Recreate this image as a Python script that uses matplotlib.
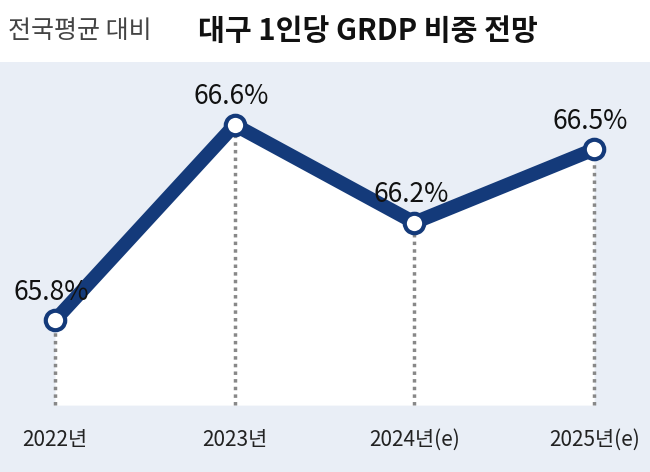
import matplotlib
matplotlib.use("Agg")
import matplotlib.pyplot as plt
from matplotlib.patches import Rectangle

categories = ["2022년", "2023년", "2024년(e)", "2025년(e)"]
values = [65.8, 66.6, 66.2, 66.5]
labels = ["65.8%", "66.6%", "66.2%", "66.5%"]

W, H = 650, 472
fig = plt.figure(figsize=(6.5, 4.72), dpi=100)
fig.patch.set_facecolor("#e9eef6")
fig.patches.append(Rectangle((0, 1 - 62 / H), 1, 62 / H, transform=fig.transFigure,
                             facecolor="white", edgecolor="none", zorder=0))
ax = fig.add_axes([0, 0, 1, 1])
ax.set_facecolor("none")
ax.set_xlim(-0.306, 3.311)
ax.set_ylim(65.178, 67.112)
ax.axis("off")

x = list(range(len(values)))
base = 65.452
ax.fill_between(x, values, base, color="white", zorder=1, lw=0)
for xi, v in zip(x, values):
    ax.plot([xi, xi], [base, v], color="#888888", lw=2.5, ls=(0, (1, 1.2)), zorder=2)
ax.plot(x, values, color="#143a7a", lw=10, solid_capstyle="round", zorder=3)
ax.plot(x, values, "o", ms=14, mfc="white", mec="#143a7a", mew=3, zorder=4)

font = ["Noto Sans CJK JP", "Noto Sans CJK KR", "Noto Sans CJK SC", "DejaVu Sans"]
for xi, v, lab in zip(x, values, labels):
    ax.text(xi - 0.02, v + 0.115, lab, ha="center", va="center", fontsize=19,
            family=font, color="#111111", zorder=5)
for xi, c in zip(x, categories):
    ax.text(xi + 0.0, 65.31, c, ha="center", va="center", fontsize=15,
            family=font, color="#222222")

fig.text(0.012, 0.935, "전국평균 대비", fontsize=18, family=font, color="#444444",
         va="center", ha="left")
fig.text(0.305, 0.935, "대구 1인당 GRDP 비중 전망", fontsize=21, family=font,
         fontweight="bold", color="#111111", va="center", ha="left")

fig.savefig("out.png", dpi=100, facecolor=fig.get_facecolor())
